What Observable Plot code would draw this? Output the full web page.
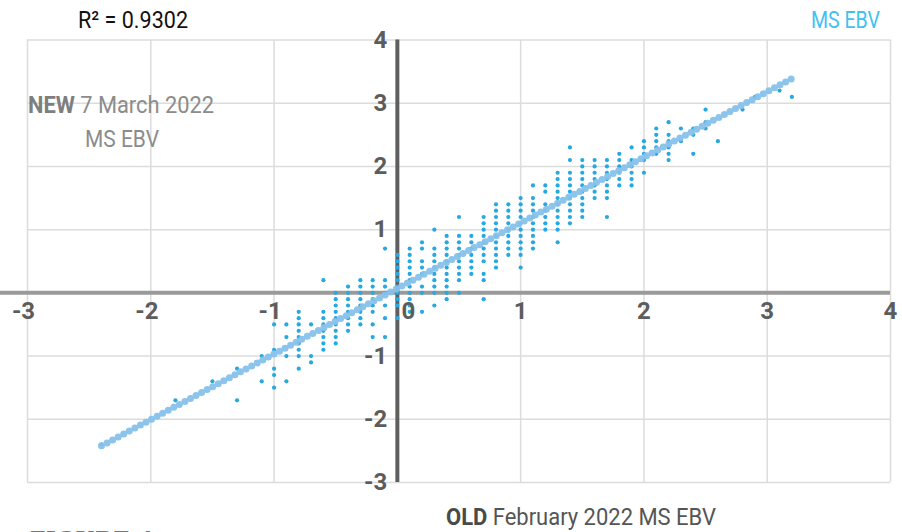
<!DOCTYPE html>
<html>
<head>
<meta charset="utf-8">
<script src="https://cdn.jsdelivr.net/npm/d3@7"></script>
<script src="https://cdn.jsdelivr.net/npm/@observablehq/plot@0.6"></script>
<style>
  html, body { margin: 0; padding: 0; background: #fff; overflow: hidden; width: 902px; height: 532px; }
  #chart { position: relative; width: 902px; height: 532px; }
</style>
</head>
<body>
<div id="chart"></div>
<script>
// ---- data ----
const xTicks = [-3, -2, -1, 0, 1, 2, 3, 4];
const yTicks = [-3, -2, -1, 0, 1, 2, 3, 4];
const xTickLabels = ["-3", "-2", "-1", "0", "1", "2", "3", "4"];
const yTickLabels = ["-3", "-2", "-1", "0", "1", "2", "3", "4"];

// OLD (Feb 2022) EBV columns and the NEW (7 Mar 2022) EBV values in each column
const oldEbv = [-2.4, -1.8, -1.5, -1.3, -1.1, -1.0, -0.9, -0.8, -0.7, -0.6, -0.5, -0.4, -0.3, -0.2, -0.1,
  0, 0.1, 0.2, 0.3, 0.4, 0.5, 0.6, 0.7, 0.8, 0.9, 1.0, 1.1, 1.2, 1.3, 1.4, 1.5, 1.6, 1.7, 1.8, 1.9,
  2.0, 2.1, 2.2, 2.3, 2.4, 2.5, 2.6, 2.8, 2.9, 3.1, 3.2];
const newEbv = [
  [-2.4],
  [-1.7],
  [-1.4],
  [-1.2, -1.7],
  [-1.0, -1.4],
  [-0.5, -0.9, -1.2, -1.3, -1.5],
  [-0.5, -0.7, -1.0, -1.4],
  [-0.3, -0.4, -0.5, -0.6, -0.7, -0.8, -0.9, -1.0, -1.2],
  [-0.5, -1.0, -1.1],
  [0.2, -0.3, -0.4, -0.5, -0.6, -0.7, -0.8, -0.9],
  [0, -0.1, -0.2, -0.3, -0.4, -0.5, -0.6, -0.7, -0.8],
  [0.1, 0, -0.1, -0.2, -0.3, -0.4, -0.5, -0.6],
  [0.2, 0.1, 0, -0.1, -0.2, -0.3, -0.4, -0.5],
  [0.2, 0.1, 0, -0.1, -0.2, -0.3, -0.5, -0.7],
  [0.7, 0.2, 0.1, 0, -0.2, -0.4, -0.7],
  [0.6, 0.5, 0.4, 0.3, 0.2, 0.1, 0, -0.1, -0.2, -0.4],
  [0.7, 0.6, 0.5, 0.4, 0.3, 0.2, 0.1, 0, -0.1, -0.2, -0.3],
  [0.8, 0.7, 0.5, 0.4, 0.3, 0.1, 0, -0.3],
  [1.0, 0.7, 0.6, 0.5, 0.4, 0.3, 0.2, 0.1, 0, -0.2],
  [0.9, 0.8, 0.7, 0.6, 0.5, 0.4, 0.3, 0.2, 0.1, 0, -0.1],
  [1.2, 0.9, 0.8, 0.7, 0.6, 0.5, 0.4, 0.3, 0.2, 0],
  [0.9, 0.8, 0.7, 0.6, 0.5, 0.4, 0.3],
  [1.2, 1.1, 1.0, 0.9, 0.8, 0.7, 0.6, 0.5, 0.3, 0.2, -0.1],
  [1.4, 1.3, 1.2, 1.1, 1.0, 0.9, 0.8, 0.7, 0.6, 0.5, 0.4],
  [1.4, 1.3, 1.2, 1.1, 1.0, 0.9, 0.8, 0.7, 0.6],
  [1.5, 1.4, 1.3, 1.2, 1.1, 1.0, 0.9, 0.8, 0.7, 0.6, 0.4],
  [1.7, 1.5, 1.4, 1.3, 1.2, 1.1, 1.0, 0.9, 0.8, 0.7],
  [1.7, 1.6, 1.4, 1.3, 1.2, 1.1, 1.0],
  [1.9, 1.8, 1.7, 1.6, 1.5, 1.4, 1.3, 1.2, 1.1, 1.0, 0.8],
  [2.3, 2.1, 1.9, 1.8, 1.7, 1.6, 1.5, 1.4, 1.3, 1.2, 1.1],
  [2.1, 2.0, 1.9, 1.8, 1.7, 1.6, 1.5, 1.4, 1.3, 1.2],
  [2.1, 2.0, 1.9, 1.8, 1.7, 1.6, 1.5],
  [2.1, 2.0, 1.9, 1.8, 1.7, 1.6, 1.5, 1.2],
  [2.2, 2.1, 2.0, 1.9, 1.8, 1.7],
  [2.3, 2.1, 2.0, 1.9, 1.8, 1.7],
  [2.4, 2.3, 2.2, 2.1, 1.9],
  [2.6, 2.5, 2.4, 2.3, 2.2],
  [2.7, 2.5, 2.4, 2.3, 2.2, 2.1],
  [2.6, 2.4],
  [2.6, 2.5, 2.2],
  [2.9, 2.7, 2.6],
  [2.4],
  [2.9],
  [3.1],
  [3.2],
  [3.1]
];

// fitted trendline end points (old, new)
const trendOld = [-2.4, 3.2];
const trendNew = [-2.42, 3.39];
const rSquared = "0.9302";

// ---- build tables ----
const points = oldEbv.flatMap((x, i) => newEbv[i].map(y => ({x, y})));
const trend = trendOld.map((x, i) => ({x, y: trendNew[i]}));
const xLab = xTicks.map((v, i) => ({v, label: xTickLabels[i]}));
const yLab = yTicks.map((v, i) => ({v, label: yTickLabels[i]}));

const FONT = "Roboto, 'Open Sans', sans-serif";
const tickStyle = {fontFamily: FONT, fontSize: 24, fontWeight: "bold", fill: "#5c5c5c"};

const plot = Plot.plot({
  width: 902,
  height: 532,
  marginTop: 39.5,
  marginBottom: 50,
  marginLeft: 27,
  marginRight: 12,
  style: {background: "transparent", overflow: "visible"},
  x: {domain: [-3, 4], axis: null},
  y: {domain: [-3, 4], axis: null},
  marks: [
    Plot.ruleX(xTicks, {stroke: "#dcdcdc", strokeWidth: 1.5}),
    Plot.ruleY(yTicks, {stroke: "#dcdcdc", strokeWidth: 1.5}),
    Plot.ruleY([0], {stroke: "#9a9a9a", strokeWidth: 4, insetLeft: -27}),
    Plot.ruleX([0], {stroke: "#5f5f5f", strokeWidth: 4}),
    Plot.dot(points, {x: "x", y: "y", r: 2.1, fill: "#27a8e0", stroke: null}),
    Plot.line(trend, {x: "x", y: "y", stroke: "#86c1ea", strokeWidth: 7, strokeDasharray: "0 6.3", strokeLinecap: "round", strokeOpacity: 0.95}),
    Plot.text(xLab.filter(d => d.v < 0), {x: "v", y: 0, text: "label", dy: 18, dx: -4, ...tickStyle}),
    Plot.text(xLab.filter(d => d.v > 0), {x: "v", y: 0, text: "label", dy: 18, ...tickStyle}),
    Plot.text(xLab.filter(d => d.v === 0), {x: "v", y: 0, text: "label", dy: 18, dx: 11, ...tickStyle}),
    Plot.text(yLab.filter(d => d.v !== 0), {x: 0, y: "v", text: "label", dx: -10, textAnchor: "end", ...tickStyle})
  ]
});

document.getElementById("chart").appendChild(plot);

// ---- titles / labels ----
const svg = d3.select(plot);
const t = (x, y, anchor, size, fill, parts, len, family) => {
  const el = svg.append("text")
    .attr("x", x).attr("y", y)
    .attr("text-anchor", anchor)
    .attr("font-family", family || FONT)
    .attr("font-size", size)
    .attr("fill", fill);
  if (len) el.attr("textLength", len).attr("lengthAdjust", "spacingAndGlyphs");
  parts.forEach(p => el.append("tspan").text(p.text).attr("font-weight", p.bold ? "bold" : "normal").attr("fill", p.fill || fill));
  return el;
};
t(78, 28, "start", 24, "#111", [{text: "R² = " + rSquared}], 110);
t(880, 28, "end", 24, "#3fc2f0", [{text: "MS EBV"}], 69);
t(121, 113, "middle", 24, "#8c8c8c", [{text: "NEW", bold: true, fill: "#7e7e7e"}, {text: " 7 March 2022"}], 186);
t(122, 147, "middle", 24, "#8c8c8c", [{text: "MS EBV"}], 74);
t(581, 525, "middle", 24, "#555", [{text: "OLD", bold: true, fill: "#4a4a4a"}, {text: " February 2022 MS EBV"}], 270);
t(30, 546, "start", 21, "#777", [{text: "FIGURE 4", bold: true}], null, "'DejaVu Serif', 'Liberation Serif', serif").attr("letter-spacing", 1);
</script>
</body>
</html>
